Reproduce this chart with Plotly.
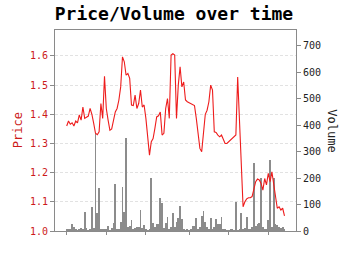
import plotly.graph_objects as go

# ---- data ----
price = [1.360, 1.377, 1.366, 1.371, 1.360, 1.377, 1.371, 1.398, 1.380, 1.425,
         1.386, 1.390, 1.394, 1.420, 1.400, 1.369, 1.335, 1.330, 1.340, 1.437,
         1.386, 1.530, 1.420, 1.380, 1.345, 1.350, 1.385, 1.408, 1.420, 1.449,
         1.494, 1.597, 1.580, 1.534, 1.540, 1.523, 1.432, 1.430, 1.466, 1.420,
         1.437, 1.483, 1.425, 1.432, 1.386, 1.330, 1.260, 1.306, 1.317, 1.352,
         1.391, 1.395, 1.408, 1.329, 1.335, 1.420, 1.454, 1.386, 1.603, 1.608,
         1.603, 1.386, 1.500, 1.563, 1.494, 1.511, 1.449, 1.443, 1.440, 1.437,
         1.432, 1.430, 1.386, 1.329, 1.283, 1.272, 1.335, 1.400, 1.414, 1.443,
         1.500, 1.483, 1.340, 1.338, 1.329, 1.323, 1.329, 1.317, 1.300, 1.300,
         1.306, 1.312, 1.320, 1.325, 1.329, 1.528, 1.386, 1.192, 1.083, 1.100,
         1.110, 1.114, 1.114, 1.118, 1.146, 1.169, 1.178, 1.175, 1.163, 1.140,
         1.180, 1.158, 1.198, 1.169, 1.203, 1.158, 1.112, 1.078, 1.083, 1.072,
         1.078, 1.052]

volume = [6, 8, 8, 25, 16, 6, 3, 8, 10, 4,
          73, 12, 3, 6, 90, 10, 370, 67, 162, 8,
          5, 5, 6, 19, 3, 10, 32, 178, 5, 6,
          35, 165, 73, 351, 16, 19, 40, 5, 12, 16,
          16, 80, 12, 22, 6, 3, 6, 202, 30, 16,
          25, 25, 124, 105, 12, 30, 52, 8, 16, 68,
          16, 35, 48, 95, 44, 8, 3, 5, 3, 4,
          19, 19, 48, 5, 16, 55, 77, 35, 16, 5,
          48, 5, 16, 45, 25, 25, 52, 8, 5, 3,
          3, 8, 4, 3, 111, 3, 4, 68, 5, 12,
          54, 5, 4, 16, 259, 19, 25, 30, 200, 16,
          4, 6, 40, 269, 16, 200, 25, 22, 16, 10,
          16, 5]

t = list(range(len(price)))
x_ticks = [0, 22, 44, 68, 90, 112]
price_ticks = [1.0, 1.1, 1.2, 1.3, 1.4, 1.5, 1.6]
volume_ticks = [0, 100, 200, 300, 400, 500, 600, 700]

MONO = "DejaVu Sans Mono"
RED = "#cc1a1a"
AX = "#8a8a8a"

fig = go.Figure()
fig.add_trace(go.Bar(x=t, y=volume, width=0.5, marker=dict(color="#8c8c8c", line=dict(width=0)),
                     yaxis="y", showlegend=False))
fig.add_trace(go.Scatter(x=t, y=price, mode="lines", line=dict(color="#ee1c1c", width=1.1),
                         yaxis="y2", showlegend=False))

fig.update_layout(
    width=350, height=255,
    margin=dict(l=55, r=54, t=30, b=24),
    paper_bgcolor="white", plot_bgcolor="white",
    font=dict(family=MONO, size=10),
    title=dict(text="<b>Price/Volume over time</b>", x=0.497, xanchor="center",
               y=0.945, yanchor="middle", font=dict(family=MONO, size=18, color="black")),
    bargap=0,
    xaxis=dict(range=[-6.5, 127.4], tickvals=x_ticks, showticklabels=False,
               ticks="outside", ticklen=3, tickcolor=AX, showline=True, linecolor=AX,
               linewidth=1, mirror=True, showgrid=False, zeroline=False),
    yaxis=dict(range=[0, 760.5], side="right", tickvals=volume_ticks, ticks="outside",
               ticklen=4, tickcolor=AX, showline=True, linecolor=AX, linewidth=1,
               showgrid=False, zeroline=False, tickfont=dict(family=MONO, size=10, color="#222222")),
    yaxis2=dict(range=[1.0, 1.689], side="left", overlaying="y", tickvals=price_ticks,
                ticktext=[f"{v:.1f}" for v in price_ticks], ticks="outside", ticklen=4,
                tickcolor=AX, showline=True, linecolor=AX, linewidth=1,
                showgrid=True, gridcolor="#e2e2e2", griddash="3px,2px", gridwidth=1,
                zeroline=False, tickfont=dict(family=MONO, size=10, color=RED)),
    annotations=[
        dict(text="Price", xref="paper", yref="paper", x=-0.155, y=0.5, xanchor="center",
             yanchor="middle", textangle=-90, showarrow=False,
             font=dict(family=MONO, size=12, color=RED)),
        dict(text="Volume", xref="paper", yref="paper", x=1.15, y=0.5, xanchor="center",
             yanchor="middle", textangle=90, showarrow=False,
             font=dict(family=MONO, size=12, color="#222222")),
    ],
)

fig.write_html("out.html")
